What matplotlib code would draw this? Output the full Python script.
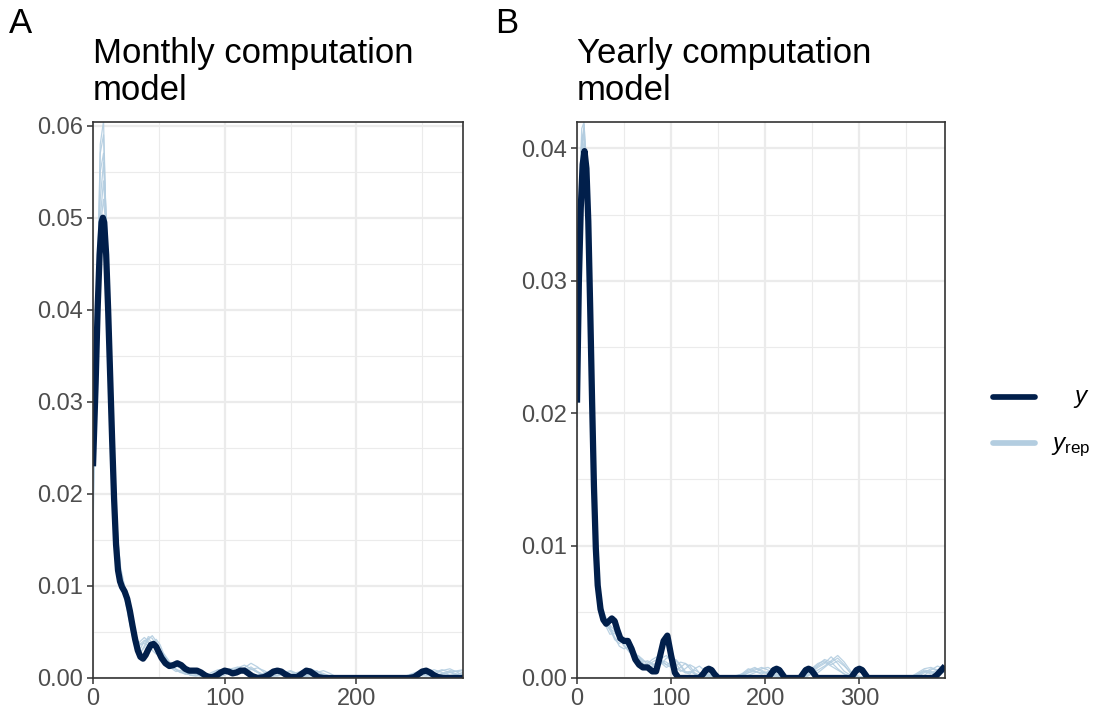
import numpy as np
import matplotlib.pyplot as plt
from matplotlib.lines import Line2D
from matplotlib.ticker import MultipleLocator, FormatStrFormatter

plt.rcParams['font.family'] = ['Liberation Sans', 'DejaVu Sans']
plt.rcParams['mathtext.fontset'] = 'custom'
plt.rcParams['mathtext.it'] = 'Liberation Sans:italic'
plt.rcParams['mathtext.rm'] = 'Liberation Sans'

# ---- monthly model: observed density ----
x_month = [0, 2, 3.5, 5, 6.5, 7.5, 8.5, 10, 11.5, 13, 14.5, 16, 17.5, 19, 20.5, 22, 24, 26, 28, 30,
           32, 34, 36, 38, 40, 42, 44, 46, 48, 50, 52, 55, 58, 61, 64, 67, 70, 73, 76, 79,
           82, 85, 88, 91, 94, 97, 100, 103, 106, 109, 112, 115, 118, 121, 125, 130, 134, 137, 140, 143,
           146, 150, 155, 159, 162, 165, 168, 171, 175, 240, 244, 247, 250, 253, 256, 259, 262, 266, 281]
y_month = [0.023, 0.032, 0.040, 0.046, 0.0495, 0.050, 0.0495, 0.046, 0.040, 0.033, 0.026, 0.0195, 0.0145, 0.0117, 0.0105, 0.0099, 0.0094, 0.0086, 0.0073, 0.0057,
           0.0042, 0.0030, 0.0023, 0.0021, 0.0025, 0.0031, 0.0036, 0.0037, 0.0034, 0.0028, 0.0022, 0.0016, 0.0013, 0.0014, 0.0016, 0.0014, 0.0010, 0.0008, 0.0008, 0.0008,
           0.0006, 0.0003, 0.0001, 0.0001, 0.0003, 0.0006, 0.0008, 0.0007, 0.0005, 0.0006, 0.0008, 0.0008, 0.0005, 0.0002, 0.0000, 0.0001, 0.0004, 0.0007, 0.0008, 0.0007,
           0.0004, 0.0001, 0.0001, 0.0005, 0.0008, 0.0007, 0.0004, 0.0001, 0.0000, 0.0000, 0.0001, 0.0004, 0.0007, 0.0008, 0.0006, 0.0003, 0.0001, 0.0000, 0.0000]

# ---- monthly model: replicated densities ----
x_month_rep = [0, 3, 5.5, 8, 10.5, 13, 15.5, 18, 21, 24, 27, 30, 33, 36, 39, 42, 45, 48, 51, 54,
               57, 60, 63, 66, 70, 74, 78, 82, 86, 90, 95, 100, 105, 110, 115, 120, 125, 130, 135, 140,
               145, 150, 155, 160, 165, 170, 175, 180, 185, 235, 241, 247, 253, 259, 265, 271, 277, 281]
rep_month_1 = [0.020, 0.040, 0.057, 0.059, 0.047, 0.031, 0.019, 0.0125, 0.0105, 0.0090, 0.0068, 0.0045, 0.0030, 0.0032, 0.0040, 0.0043, 0.0038, 0.0030, 0.0028, 0.0024,
               0.0018, 0.0012, 0.0009, 0.0008, 0.0006, 0.0003, 0.0002, 0.0003, 0.0002, 0.0001, 0.0003, 0.0007, 0.0010, 0.0006, 0.0009, 0.0012, 0.0007, 0.0003, 0.0002, 0.0006,
               0.0004, 0.0001, 0.0000, 0.0002, 0.0005, 0.0008, 0.0003, 0.0000, 0.0000, 0.0000, 0.0002, 0.0005, 0.0003, 0.0001, 0.0004, 0.0007, 0.0004, 0.0006]
rep_month_2 = [0.024, 0.038, 0.052, 0.056, 0.049, 0.036, 0.023, 0.014, 0.0110, 0.0095, 0.0072, 0.0048, 0.0036, 0.0040, 0.0044, 0.0040, 0.0034, 0.0033, 0.0030, 0.0022,
               0.0015, 0.0011, 0.0010, 0.0007, 0.0004, 0.0004, 0.0006, 0.0004, 0.0001, 0.0000, 0.0002, 0.0005, 0.0008, 0.0011, 0.0014, 0.0010, 0.0006, 0.0004, 0.0006, 0.0007,
               0.0004, 0.0002, 0.0004, 0.0006, 0.0003, 0.0001, 0.0000, 0.0000, 0.0000, 0.0001, 0.0004, 0.0007, 0.0005, 0.0006, 0.0009, 0.0006, 0.0003, 0.0002]
rep_month_3 = [0.018, 0.036, 0.050, 0.054, 0.048, 0.037, 0.025, 0.016, 0.0120, 0.0100, 0.0080, 0.0055, 0.0035, 0.0028, 0.0033, 0.0042, 0.0046, 0.0040, 0.0030, 0.0020,
               0.0014, 0.0013, 0.0015, 0.0012, 0.0007, 0.0005, 0.0004, 0.0002, 0.0002, 0.0004, 0.0008, 0.0006, 0.0004, 0.0007, 0.0011, 0.0016, 0.0012, 0.0006, 0.0003, 0.0002,
               0.0004, 0.0007, 0.0004, 0.0002, 0.0004, 0.0007, 0.0005, 0.0002, 0.0000, 0.0000, 0.0003, 0.0006, 0.0004, 0.0002, 0.0005, 0.0008, 0.0007, 0.0008]
rep_month_4 = [0.022, 0.037, 0.049, 0.052, 0.048, 0.039, 0.027, 0.017, 0.0115, 0.0098, 0.0082, 0.0060, 0.0042, 0.0037, 0.0041, 0.0038, 0.0030, 0.0026, 0.0027, 0.0024,
               0.0017, 0.0010, 0.0007, 0.0008, 0.0010, 0.0008, 0.0004, 0.0002, 0.0003, 0.0006, 0.0009, 0.0008, 0.0010, 0.0012, 0.0009, 0.0005, 0.0003, 0.0005, 0.0008, 0.0006,
               0.0003, 0.0004, 0.0006, 0.0008, 0.0010, 0.0007, 0.0003, 0.0001, 0.0000, 0.0000, 0.0000, 0.0002, 0.0006, 0.0009, 0.0006, 0.0003, 0.0004, 0.0006]
rep_month_5 = [0.016, 0.038, 0.058, 0.0605, 0.046, 0.030, 0.020, 0.014, 0.0110, 0.0088, 0.0065, 0.0045, 0.0034, 0.0036, 0.0038, 0.0035, 0.0038, 0.0042, 0.0036, 0.0025,
               0.0016, 0.0012, 0.0013, 0.0011, 0.0006, 0.0003, 0.0003, 0.0005, 0.0004, 0.0002, 0.0001, 0.0003, 0.0007, 0.0009, 0.0007, 0.0009, 0.0011, 0.0008, 0.0004, 0.0003,
               0.0005, 0.0004, 0.0002, 0.0001, 0.0003, 0.0006, 0.0008, 0.0005, 0.0001, 0.0000, 0.0001, 0.0003, 0.0002, 0.0004, 0.0008, 0.0010, 0.0006, 0.0003]
rep_month_6 = [0.021, 0.041, 0.055, 0.057, 0.047, 0.033, 0.021, 0.0135, 0.0105, 0.0092, 0.0075, 0.0050, 0.0031, 0.0027, 0.0035, 0.0045, 0.0043, 0.0035, 0.0029, 0.0026,
               0.0020, 0.0014, 0.0009, 0.0006, 0.0005, 0.0006, 0.0005, 0.0003, 0.0001, 0.0002, 0.0006, 0.0010, 0.0007, 0.0005, 0.0008, 0.0010, 0.0006, 0.0002, 0.0001, 0.0003,
               0.0006, 0.0008, 0.0005, 0.0002, 0.0001, 0.0002, 0.0004, 0.0002, 0.0000, 0.0000, 0.0002, 0.0004, 0.0007, 0.0005, 0.0003, 0.0006, 0.0008, 0.0009]

# ---- yearly model: observed density ----
x_year = [0, 2, 4, 6, 8, 10, 12, 14, 16, 18, 20, 22, 25, 28, 31, 34, 37, 40, 43, 46,
          50, 54, 58, 62, 66, 70, 75, 80, 84, 88, 92, 96, 100, 104, 108, 112, 130, 134, 137, 140,
          143, 146, 150, 203, 206, 209, 212, 215, 218, 221, 237, 240, 243, 246, 249, 252, 255, 291, 294, 297,
          300, 303, 306, 309, 378, 382, 386, 391]
y_year = [0.0208, 0.0300, 0.0355, 0.0388, 0.0398, 0.0385, 0.0345, 0.0280, 0.0210, 0.0145, 0.0098, 0.0070, 0.0052, 0.0044, 0.0041, 0.0043, 0.0045, 0.0043, 0.0036, 0.0030,
          0.0028, 0.0028, 0.0022, 0.0014, 0.0010, 0.0008, 0.0008, 0.0005, 0.0005, 0.0016, 0.0028, 0.0032, 0.0017, 0.0004, 0.0000, 0.0000, 0.0000, 0.0003, 0.0006, 0.0007,
          0.0006, 0.0003, 0.0000, 0.0000, 0.0003, 0.0006, 0.0007, 0.0006, 0.0003, 0.0000, 0.0000, 0.0003, 0.0006, 0.0007, 0.0006, 0.0003, 0.0000, 0.0000, 0.0003, 0.0006,
          0.0007, 0.0006, 0.0003, 0.0000, 0.0000, 0.0002, 0.0005, 0.0009]

# ---- yearly model: replicated densities ----
x_year_rep = [0, 2.5, 5, 7.5, 10, 12.5, 15, 17.5, 20, 23, 26, 30, 35, 40, 45, 50, 55, 60, 65, 70,
              75, 80, 85, 90, 95, 100, 105, 110, 115, 120, 125, 130, 140, 150, 165, 175, 182, 189, 196, 203,
              210, 218, 235, 242, 249, 256, 263, 270, 277, 284, 291, 300, 355, 362, 369, 376, 383, 391]
rep_year_1 = [0.022, 0.034, 0.040, 0.0418, 0.039, 0.032, 0.023, 0.015, 0.0095, 0.0062, 0.0050, 0.0045, 0.0040, 0.0036, 0.0032, 0.0028, 0.0024, 0.0020, 0.0016, 0.0013,
              0.0012, 0.0010, 0.0011, 0.0013, 0.0012, 0.0009, 0.0006, 0.0008, 0.0011, 0.0009, 0.0004, 0.0002, 0.0001, 0.0000, 0.0000, 0.0002, 0.0006, 0.0008, 0.0005, 0.0003,
              0.0001, 0.0000, 0.0000, 0.0002, 0.0006, 0.0010, 0.0014, 0.0012, 0.0007, 0.0003, 0.0001, 0.0000, 0.0000, 0.0001, 0.0004, 0.0007, 0.0006, 0.0004]
rep_year_2 = [0.019, 0.033, 0.0405, 0.0415, 0.038, 0.031, 0.022, 0.014, 0.0090, 0.0060, 0.0048, 0.0042, 0.0036, 0.0030, 0.0028, 0.0027, 0.0023, 0.0017, 0.0012, 0.0010,
              0.0011, 0.0014, 0.0016, 0.0013, 0.0010, 0.0012, 0.0014, 0.0010, 0.0005, 0.0004, 0.0006, 0.0004, 0.0001, 0.0000, 0.0001, 0.0003, 0.0007, 0.0005, 0.0003, 0.0005,
              0.0004, 0.0001, 0.0000, 0.0001, 0.0004, 0.0008, 0.0011, 0.0016, 0.0011, 0.0005, 0.0002, 0.0000, 0.0000, 0.0002, 0.0005, 0.0004, 0.0006, 0.0008]
rep_year_3 = [0.023, 0.035, 0.0395, 0.0405, 0.0375, 0.031, 0.023, 0.0155, 0.0100, 0.0066, 0.0052, 0.0040, 0.0033, 0.0034, 0.0030, 0.0024, 0.0021, 0.0019, 0.0015, 0.0011,
              0.0008, 0.0009, 0.0012, 0.0015, 0.0017, 0.0013, 0.0008, 0.0005, 0.0007, 0.0010, 0.0008, 0.0004, 0.0002, 0.0000, 0.0000, 0.0003, 0.0005, 0.0007, 0.0006, 0.0003,
              0.0002, 0.0000, 0.0001, 0.0003, 0.0007, 0.0011, 0.0013, 0.0010, 0.0013, 0.0009, 0.0004, 0.0000, 0.0000, 0.0003, 0.0006, 0.0005, 0.0003, 0.0005]
rep_year_4 = [0.020, 0.036, 0.0415, 0.042, 0.037, 0.029, 0.021, 0.0145, 0.0098, 0.0068, 0.0055, 0.0047, 0.0038, 0.0029, 0.0026, 0.0029, 0.0026, 0.0019, 0.0013, 0.0012,
              0.0013, 0.0011, 0.0009, 0.0011, 0.0015, 0.0016, 0.0011, 0.0006, 0.0004, 0.0005, 0.0003, 0.0001, 0.0002, 0.0000, 0.0000, 0.0001, 0.0004, 0.0006, 0.0008, 0.0006,
              0.0002, 0.0000, 0.0000, 0.0002, 0.0005, 0.0009, 0.0012, 0.0009, 0.0006, 0.0003, 0.0001, 0.0000, 0.0001, 0.0004, 0.0007, 0.0008, 0.0006, 0.0007]
rep_year_5 = [0.021, 0.0335, 0.040, 0.041, 0.0385, 0.0325, 0.024, 0.016, 0.0105, 0.0070, 0.0050, 0.0041, 0.0037, 0.0035, 0.0031, 0.0025, 0.0020, 0.0017, 0.0017, 0.0014,
              0.0010, 0.0008, 0.0010, 0.0012, 0.0010, 0.0008, 0.0009, 0.0012, 0.0011, 0.0007, 0.0003, 0.0002, 0.0003, 0.0001, 0.0000, 0.0002, 0.0004, 0.0005, 0.0004, 0.0004,
              0.0003, 0.0001, 0.0000, 0.0000, 0.0003, 0.0006, 0.0009, 0.0013, 0.0017, 0.0012, 0.0005, 0.0001, 0.0000, 0.0000, 0.0002, 0.0006, 0.0009, 0.0007]
rep_year_6 = [0.020, 0.035, 0.0408, 0.0412, 0.0372, 0.030, 0.0215, 0.0148, 0.0100, 0.0065, 0.0049, 0.0046, 0.0039, 0.0031, 0.0024, 0.0022, 0.0024, 0.0021, 0.0016, 0.0011,
              0.0009, 0.0012, 0.0014, 0.0011, 0.0008, 0.0010, 0.0013, 0.0009, 0.0004, 0.0003, 0.0007, 0.0009, 0.0003, 0.0001, 0.0000, 0.0001, 0.0002, 0.0004, 0.0007, 0.0008,
              0.0005, 0.0002, 0.0000, 0.0001, 0.0003, 0.0004, 0.0008, 0.0012, 0.0015, 0.0010, 0.0003, 0.0000, 0.0001, 0.0003, 0.0005, 0.0003, 0.0004, 0.0006]

month_reps = [rep_month_1, rep_month_2, rep_month_3, rep_month_4, rep_month_5, rep_month_6]
year_reps = [rep_year_1, rep_year_2, rep_year_3, rep_year_4, rep_year_5, rep_year_6]

DARK = "#011f4b"
LIGHT = "#b3cde0"
W, H = 1099, 717


def fx(px):
    return px / W


def fy(py):
    return 1 - py / H


fig = plt.figure(figsize=(W / 100, H / 100), dpi=100)
ax_a = fig.add_axes([fx(93), fy(678), 370 / W, 556 / H])
ax_b = fig.add_axes([fx(577), fy(678), 368 / W, 556 / H])


def dens_panel(ax, x, y, x_rep, reps, xmax, ymax):
    for r in reps:
        ax.plot(x_rep, r, color=LIGHT, lw=0.9, alpha=0.9, solid_joinstyle='round')
    ax.plot(x, y, color=DARK, lw=4.5, solid_capstyle='butt', solid_joinstyle='round')
    ax.set_xlim(0, xmax)
    ax.set_ylim(0, ymax)
    ax.xaxis.set_major_locator(MultipleLocator(100))
    ax.xaxis.set_minor_locator(MultipleLocator(50))
    ax.yaxis.set_major_locator(MultipleLocator(0.01))
    ax.yaxis.set_minor_locator(MultipleLocator(0.005))
    ax.yaxis.set_major_formatter(FormatStrFormatter('%.2f'))
    ax.grid(which='major', color='#ebebeb', lw=1.6)
    ax.grid(which='minor', color='#ebebeb', lw=0.8)
    ax.set_axisbelow(True)
    for s in ax.spines.values():
        s.set_color('#333333')
        s.set_linewidth(1.2)
    ax.tick_params(which='major', length=4, width=1.1, color='#333333',
                   labelsize=17, labelcolor='#4d4d4d', pad=3)
    ax.tick_params(which='minor', length=0)


dens_panel(ax_a, x_month, y_month, x_month_rep, month_reps, 281, 0.0604)
dens_panel(ax_b, x_year, y_year, x_year_rep, year_reps, 391, 0.0420)

# panel tags and titles
fig.text(fx(9), fy(33), "A", fontsize=25, va='baseline')
fig.text(fx(495), fy(33), "B", fontsize=25, va='baseline')
fig.text(fx(93), fy(63), "Monthly computation", fontsize=25, va='baseline')
fig.text(fx(93), fy(100), "model", fontsize=25, va='baseline')
fig.text(fx(577), fy(63), "Yearly computation", fontsize=25, va='baseline')
fig.text(fx(577), fy(100), "model", fontsize=25, va='baseline')

# legend
fig.add_artist(Line2D([fx(993), fx(1035)], [fy(397), fy(397)], color=DARK, lw=4.1,
                      solid_capstyle='round'))
fig.add_artist(Line2D([fx(993), fx(1035)], [fy(443), fy(443)], color=LIGHT, lw=4.1,
                      solid_capstyle='round'))
fig.text(fx(1090), fy(403), r"$y$", fontsize=17.5, ha='right', va='baseline')
fig.text(fx(1090), fy(450), r"$y_{\mathrm{rep}}$", fontsize=17.5, ha='right', va='baseline')

fig.savefig("out.png", dpi=100)
